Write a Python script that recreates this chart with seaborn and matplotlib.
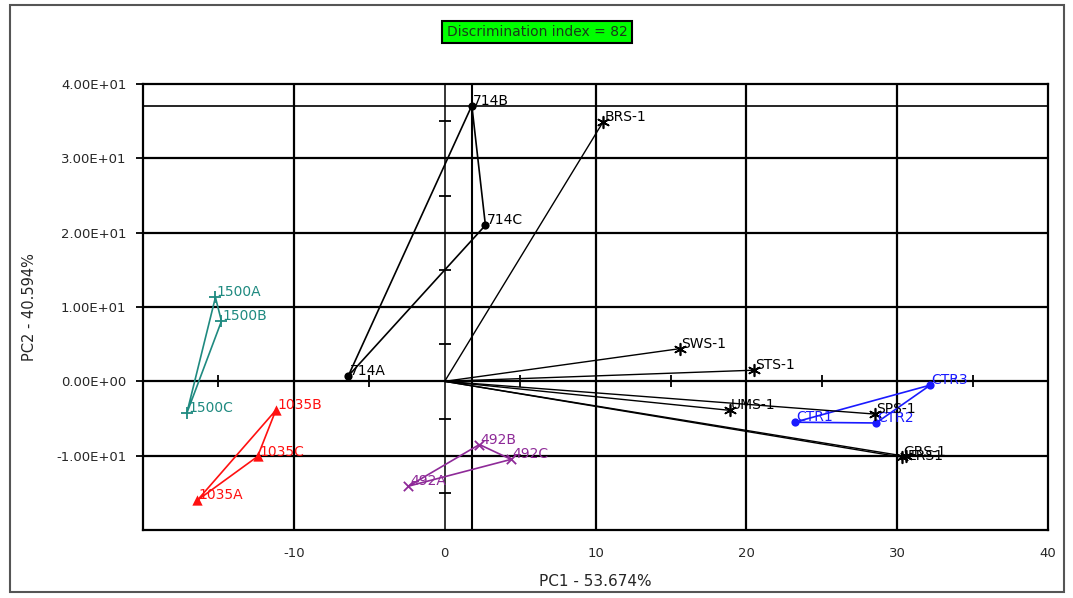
import matplotlib
matplotlib.use("Agg")
import matplotlib.pyplot as plt
import seaborn as sns
import pandas as pd
from matplotlib.patches import Rectangle
from matplotlib.ticker import FuncFormatter

# sample groups (PC1, PC2)
labels_714 = ["714A", "714B", "714C"]
pc1_714 = [-6.4, 1.8, 2.7]
pc2_714 = [0.7, 37.1, 21.0]

labels_1500 = ["1500A", "1500B", "1500C"]
pc1_1500 = [-15.2, -14.8, -17.1]
pc2_1500 = [11.3, 8.1, -4.3]

labels_1035 = ["1035A", "1035B", "1035C"]
pc1_1035 = [-16.4, -11.2, -12.4]
pc2_1035 = [-16.0, -3.9, -10.1]

labels_492 = ["492A", "492B", "492C"]
pc1_492 = [-2.4, 2.3, 4.4]
pc2_492 = [-14.1, -8.5, -10.5]

labels_ctr = ["CTR1", "CTR2", "CTR3"]
pc1_ctr = [23.2, 28.6, 32.2]
pc2_ctr = [-5.5, -5.6, -0.5]

# reference samples, joined to the origin
labels_ref = ["BRS-1", "SWS-1", "STS-1", "UMS-1", "SPS-1", "GRS-1", "ERS1"]
pc1_ref = [10.5, 15.6, 20.5, 18.9, 28.5, 30.3, 30.6]
pc2_ref = [34.9, 4.4, 1.5, -3.9, -4.4, -10.2, -10.1]

x_ticks = [-10, 0, 10, 20, 30, 40]
y_ticks = [-10, 0, 10, 20, 30, 40]

sns.set_style("white")
plt.rcParams["font.family"] = ["DejaVu Sans"]
plt.rcParams["axes.unicode_minus"] = False

fig = plt.figure(figsize=(10.73, 5.98), dpi=100)
ax = fig.add_axes([0.1333, 0.1137, 0.8434, 0.7458])

ax.set_xlim(-20, 40)
ax.set_ylim(-20, 40)

# grid-like lines of the original software
for v in [-10, 10, 20, 30]:
    ax.axvline(v, color="black", lw=1.6, zorder=1)
    ax.axhline(v, color="black", lw=1.6, zorder=1)
ax.axhline(0, color="black", lw=1.6, zorder=1)
ax.axvline(0, color="black", lw=1.1, zorder=1)
ax.axvline(pc1_714[1], color="black", lw=1.5, zorder=1)
ax.axhline(pc2_714[1], color="black", lw=1.2, zorder=1)
odd = [-15, -5, 5, 15, 25, 35]
ax.plot(odd, [0] * len(odd), ls="none", marker="|", ms=8, mew=1.3, color="black", zorder=1)
ax.plot([0] * len(odd), odd, ls="none", marker="_", ms=8, mew=1.3, color="black", zorder=1)

groups = [
    (labels_714, pc1_714, pc2_714, "black", "o", 35),
    (labels_1500, pc1_1500, pc2_1500, "#1f8a80", "+", 70),
    (labels_1035, pc1_1035, pc2_1035, "#ff1010", "^", 55),
    (labels_492, pc1_492, pc2_492, "#8e2a98", "x", 45),
    (labels_ctr, pc1_ctr, pc2_ctr, "#1a1aff", "o", 35),
]

for labels, xs, ys, color, marker, size in groups:
    poly = pd.DataFrame({"pc1": xs + xs[:1], "pc2": ys + ys[:1]})
    sns.lineplot(data=poly, x="pc1", y="pc2", sort=False, estimator=None,
                 color=color, lw=1.2, ax=ax, zorder=3)
    pts = pd.DataFrame({"pc1": xs, "pc2": ys})
    sns.scatterplot(data=pts, x="pc1", y="pc2", color=color, marker=marker,
                    s=size, linewidth=1.3 if marker in "+x" else 0,
                    edgecolor=color, ax=ax, zorder=4)
    for lab, x, y in zip(labels, xs, ys):
        ax.annotate(lab, (x, y), xytext=(1, -1.5), textcoords="offset points",
                    ha="left", va="bottom", fontsize=10, color=color, zorder=5)

rays = pd.DataFrame({
    "seg": [i for i in range(len(labels_ref)) for _ in range(2)],
    "pc1": [v for x in pc1_ref for v in (0, x)],
    "pc2": [v for y in pc2_ref for v in (0, y)],
})
sns.lineplot(data=rays, x="pc1", y="pc2", units="seg", sort=False,
             estimator=None, color="black", lw=1.0, ax=ax, zorder=3)
sns.scatterplot(x=pc1_ref, y=pc2_ref, marker=(6, 2, 0), s=70, color="black",
                linewidth=1.2, edgecolor="black", ax=ax, zorder=4)
for lab, x, y in zip(labels_ref, pc1_ref, pc2_ref):
    dy = -5 if lab == "ERS1" else -1.5
    ax.annotate(lab, (x, y), xytext=(1, dy), textcoords="offset points",
                ha="left", va="bottom", fontsize=10, color="black", zorder=5)

ax.set_xticks(x_ticks)
ax.set_yticks(y_ticks)
ax.yaxis.set_major_formatter(FuncFormatter(lambda v, p: f"{v:.2E}"))
ax.tick_params(axis="both", labelsize=9.5, length=5, width=1.3, color="black",
               direction="out", pad=7, left=True, bottom=False)
for s in ax.spines.values():
    s.set_color("black")
    s.set_linewidth(1.6)

ax.set_xlabel("PC1 - 53.674%", fontsize=11, labelpad=10)
ax.set_ylabel("PC2 - 40.594%", fontsize=10.5, labelpad=14)

fig.text(0.5005, 0.946, "Discrimination index = 82", ha="center", va="center",
         fontsize=10, color="#1a3a1a",
         bbox=dict(boxstyle="square,pad=0.3", facecolor="#00ff00",
                   edgecolor="black", linewidth=1.5))

fig.patches.append(Rectangle((0.009, 0.01), 0.983, 0.982, transform=fig.transFigure,
                             fill=False, edgecolor="#555555", linewidth=1.5))

fig.savefig("out.png", dpi=100)
